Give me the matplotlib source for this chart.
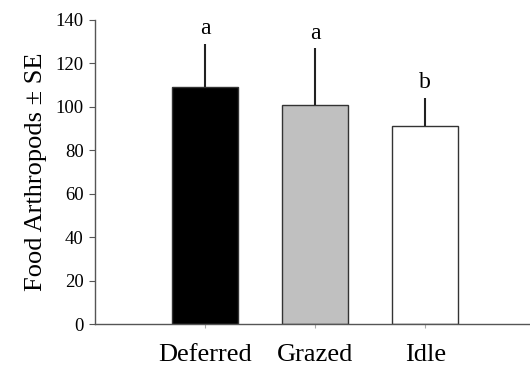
import matplotlib
matplotlib.use("Agg")
import matplotlib.pyplot as plt

categories = ["Deferred", "Grazed", "Idle"]
means = [109, 101, 91]
errors = [20, 26, 13]
letters = ["a", "a", "b"]
letter_y = [136, 134, 111]
colors = ["black", "#c0c0c0", "white"]

plt.rcParams["font.family"] = ["Liberation Serif", "DejaVu Serif"]

fig = plt.figure(figsize=(5.3, 3.7), dpi=100)
ax = fig.add_axes([0.179, 0.124, 0.821, 0.822])

x = range(len(categories))
ax.bar(x, means, width=0.6, color=colors, edgecolor="#333333", linewidth=1.0, zorder=2)
ax.errorbar(x, means, yerr=[[0] * 3, errors], fmt="none", ecolor="#222222",
            elinewidth=1.5, capsize=0, zorder=3)
for xi, lab, ly in zip(x, letters, letter_y):
    ax.text(xi, ly, lab, ha="center", va="center", fontsize=17)

ax.set_xlim(-1.0, 2.95)
ax.set_ylim(0, 140)
ax.set_yticks(range(0, 141, 20))
ax.set_xticks(list(x))
ax.set_xticklabels(categories, fontsize=19)
ax.tick_params(axis="y", labelsize=13.5, length=4, color="#555555", direction="out", pad=4)
ax.tick_params(axis="x", length=3, color="#aaaaaa", pad=11)
ax.set_ylabel("Food Arthropods ± SE", fontsize=19, labelpad=6)

for s in ["top", "right"]:
    ax.spines[s].set_visible(False)
for s in ["left", "bottom"]:
    ax.spines[s].set_color("#555555")
    ax.spines[s].set_linewidth(1.0)

fig.savefig("out.png", dpi=100)
